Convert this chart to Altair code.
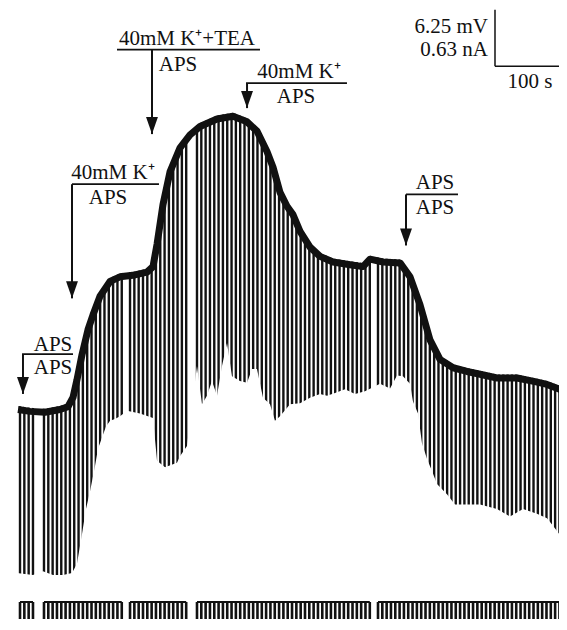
import altair as alt
import pandas as pd

# ---------------- data (time in s, membrane potential in mV re. initial rest) ----------
env_t = [0, 16.7, 37.5, 58.3, 69.4, 76.4, 81.9, 88.9, 97.2, 104.2, 113.9, 127.8, 141.7,
         162.5, 179.2, 187.5, 193.1, 201.4, 211.1, 225.0, 238.9, 252.8, 276.4, 298.6,
         318.1, 331.9, 345.8, 354.2, 363.9, 373.6, 381.9, 391.7, 405.6, 419.4, 437.5,
         461.1, 479.2, 488.9, 506.9, 530.6, 544.4, 558.3, 572.2, 586.1, 604.2, 623.6,
         641.7, 665.3, 693.1, 718.1, 734.7, 762.5]
env_v = [0.0, -0.2, -0.3, 0.0, 0.3, 1.3, 3.2, 5.9, 8.6, 10.2, 12.2, 13.8, 14.3,
         14.5, 14.8, 15.4, 17.8, 22.1, 25.6, 28.2, 29.6, 30.5, 31.3, 31.6,
         31.0, 30.0, 27.8, 26.1, 23.4, 21.9, 21.0, 19.2, 17.5, 16.5, 15.9,
         15.6, 15.4, 16.2, 15.9, 15.8, 14.3, 11.3, 7.5, 5.4, 4.5, 4.1,
         3.8, 3.4, 3.4, 3.0, 2.7, 1.9]

# peak of the hyperpolarising responses (tips of the downward deflections)
tip_t = [-1.4, 20.8, 34.7, 48.6, 62.5, 75.0, 81.9, 88.9, 94.4, 100.0, 106.9, 111.1,
         116.7, 122.2, 127.8, 134.7, 141.7, 151.4, 169.4, 187.5, 193.1, 204.2, 220.8,
         225.0, 234.7, 248.6, 255.6, 262.5, 269.4, 276.4, 283.3, 290.3, 297.2, 308.3,
         318.1, 325.0, 331.9, 340.3, 350.0, 356.9, 363.9, 377.8, 391.7, 405.6, 419.4,
         429.2, 440.3, 454.2, 468.1, 481.9, 502.8, 516.7, 526.4, 534.7, 544.4, 548.6,
         555.6, 561.1, 568.1, 575.0, 581.9, 595.8, 606.9, 623.6, 641.7, 665.3, 683.3,
         701.4, 720.8, 734.7, 743.1, 755.6, 762.5]
tip_v = [-18.0, -18.2, -17.8, -18.2, -18.2, -18.0, -17.0, -13.8, -11.1, -9.2, -6.5, -4.6,
         -3.4, -2.2, -1.6, -1.4, -1.1, -0.5, -0.8, -1.3, -5.9, -6.6, -6.1,
         -5.4, -4.3, 4.3, 0.2, 1.1, 2.7, 1.1, 4.3, 6.8, 3.2, 2.7,
         2.5, 4.0, 4.0, 0.9, 0.2, -1.6, -1.1, 0.2, 0.3, 0.9, 1.3,
         1.1, 1.4, 1.8, 1.3, 1.6, 2.4, 1.9, 3.3, 3.2, 2.4, 0.5,
         -0.8, -4.0, -5.7, -7.0, -8.4, -9.5, -10.6, -10.6, -10.6, -11.1, -11.9,
         -11.1, -11.6, -12.1, -12.9, -14.2, -13.1]

# current-pulse protocol: runs of pulses every 6 s (start s, count)
pulse_period = 6.0
seg_start = [2.8, 36.1, 155.6, 248.6, 500.0]
seg_count = [4, 19, 14, 41, 44]
pulse_amp_nA = -0.25

# annotations (time, mV)
ann_text = ["40mM K\u207a+TEA", "APS", "40mM K\u207a", "APS", "40mM K\u207a", "APS",
            "APS", "APS", "APS", "APS", "100 s"]
ann_t = [234.7, 222.2, 390.3, 386.1, 131.9, 125.0, 579.2, 579.2, 48.6, 48.6, 711.1]
ann_v = [38.9, 36.1, 35.3, 32.6, 24.5, 21.8, 23.4, 20.7, 5.9, 3.4, 34.3]
bar_t1 = [137.5, 316.7, 75.0, 538.9, 5.6]
bar_t2 = [336.1, 456.9, 195.8, 611.1, 76.4]
bar_v = [38.4, 34.8, 23.9, 22.8, 5.6]
arrow_t = [186.1, 318.1, 75.0, 538.9, 6.9]
arrow_from = [38.4, 34.8, 23.9, 22.8, 5.6]
arrow_to = [29.3, 32.1, 11.6, 17.3, 1.3]
scale_text = ["6.25 mV", "0.63 nA"]
scale_t = [652.8, 652.8]
scale_v = [40.2, 37.7]

# ---------------- frames ----------------
env = pd.DataFrame({"t": env_t, "v": env_v})
tips = pd.DataFrame({"t": tip_t, "v": tip_v})
pulse_t = [s + k * pulse_period for s, n in zip(seg_start, seg_count) for k in range(n)]
pulses = pd.DataFrame({"t": pulse_t})
segs = pd.DataFrame({"t1": seg_start,
                     "t2": [s + (n - 1) * pulse_period for s, n in zip(seg_start, seg_count)]})
ann = pd.DataFrame({"t": ann_t, "v": ann_v, "label": ann_text})
bars = pd.DataFrame({"t1": bar_t1, "t2": bar_t2, "v": bar_v})
arrows = pd.DataFrame({"t": arrow_t, "v1": arrow_from, "v2": arrow_to})
scl = pd.DataFrame({"t": scale_t, "v": scale_v, "label": scale_text})
sbar_v = pd.DataFrame({"t": [662.5], "v1": [42.7], "v2": [36.6]})
sbar_h = pd.DataFrame({"t1": [662.5], "t2": [762.5], "v": [36.6]})

V_TOP = 42.78
X = alt.Scale(domain=[-13.89, 751.39], nice=False, zero=False)
YV = alt.Scale(domain=[-22.95, V_TOP], nice=False, zero=False)
YI = alt.Scale(domain=[pulse_amp_nA, 8.72], nice=False, zero=False)
INK = "#111111"
FONT = "Liberation Serif"
FS = 21

def xq(f):
    return alt.X(f, type="quantitative", scale=X, axis=None)

def yv(f):
    return alt.Y(f, type="quantitative", scale=YV, axis=None)

pulse_layer = alt.Chart(pulses).mark_rule(color=INK, strokeWidth=2.4, clip=True).encode(
    x=xq("t"), y=alt.YDatum(-20.2, scale=YV, axis=None), y2=alt.Y2Datum(V_TOP))
low_mask = alt.Chart(tips).mark_area(color="white", opacity=1, clip=True).encode(
    x=xq("t"), y=yv("v"), y2=alt.Y2Datum(-21.5))
top_mask = alt.Chart(env).mark_area(color="white", opacity=1, clip=True).encode(
    x=xq("t"), y=yv("v"), y2=alt.Y2Datum(V_TOP))
env_line = alt.Chart(env).mark_line(color=INK, strokeWidth=7, yOffset=3.5, clip=True,
                                    strokeJoin="round").encode(x=xq("t"), y=yv("v"))

cur_base = alt.Chart(segs).mark_rule(color=INK, strokeWidth=2, clip=True).encode(
    x=xq("t1"), x2="t2", y=alt.YDatum(0, scale=YI, axis=None))
cur_pulses = alt.Chart(pulses).mark_rule(color=INK, strokeWidth=2.6, clip=True).encode(
    x=xq("t"), y=alt.YDatum(0, scale=YI, axis=None), y2=alt.Y2Datum(pulse_amp_nA))

bar_layer = alt.Chart(bars).mark_rule(color=INK, strokeWidth=1.8).encode(
    x=xq("t1"), x2="t2", y=yv("v"))
shaft_layer = alt.Chart(arrows).mark_rule(color=INK, strokeWidth=2).encode(
    x=xq("t"), y=yv("v1"), y2="v2")
head_layer = alt.Chart(arrows).mark_point(
    shape="M-0.7,-2L0.7,-2L0,0Z", size=289, filled=True, color=INK, opacity=1,
    strokeWidth=0).encode(x=xq("t"), y=yv("v2"))

text_c = alt.Chart(ann).mark_text(font=FONT, fontSize=FS, align="center",
                                  baseline="alphabetic", color=INK).encode(
    x=xq("t"), y=yv("v"), text="label:N")
text_r = alt.Chart(scl).mark_text(font=FONT, fontSize=FS, align="right",
                                  baseline="alphabetic", color=INK).encode(
    x=xq("t"), y=yv("v"), text="label:N")
sb_v = alt.Chart(sbar_v).mark_rule(color=INK, strokeWidth=1.5).encode(
    x=xq("t"), y=yv("v1"), y2="v2")
sb_h = alt.Chart(sbar_h).mark_rule(color=INK, strokeWidth=1.5, clip=True).encode(
    x=xq("t1"), x2="t2", y=yv("v"))

chart = alt.layer(
    pulse_layer, low_mask, top_mask, env_line, cur_base, cur_pulses,
    bar_layer, shaft_layer, head_layer, text_c, text_r, sb_v, sb_h
).resolve_scale(y="independent").properties(
    width=551, height=610, padding=0, background="white"
).configure_view(stroke=None)

chart.save("out.html", embed_options={"renderer": "svg", "actions": False})
